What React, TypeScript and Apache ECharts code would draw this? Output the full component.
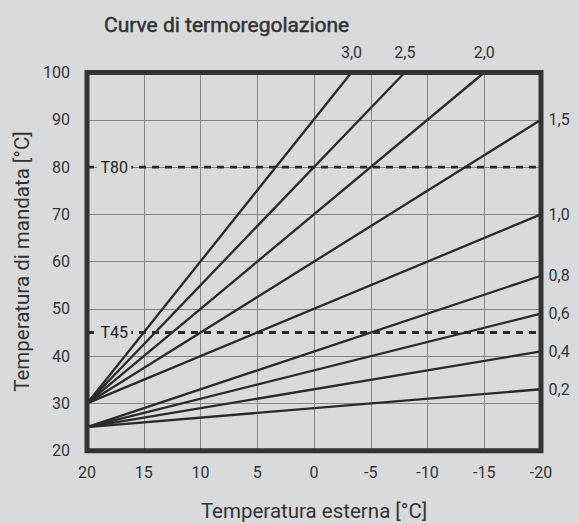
import React, { useEffect, useRef } from "react";
import * as echarts from "echarts";

// Curve labels (heating curve slopes)
const curveNames = ["3,0", "2,5", "2,0", "1,5", "1,0", "0,8", "0,6", "0,4", "0,2"];
// Start point of each curve (outdoor temp, flow temp)
const startOutdoor = [20, 20, 20, 20, 20, 20, 20, 20, 20];
const startFlow = [30, 30, 30, 30, 30, 25, 25, 25, 25];
// End point of each curve
const endOutdoor = [-3.3, -8, -15, -20, -20, -20, -20, -20, -20];
const endFlow = [100, 100, 100, 90, 70, 57, 49, 41, 33];

// Reference temperatures
const refNames = ["T80", "T45"];
const refFlow = [80, 45];
const refLabelOutdoor = [17.6, 17.6];

const xTicks = { min: -20, max: 20, interval: 5 };
const yTicks = { min: 20, max: 100, interval: 10 };

const FONT = "Roboto, 'Liberation Sans', sans-serif";
const TEXT = "#333333";
const BG = "#d9dadc";
const INK = "#2a2a2a";

const GRID = { left: 87, right: 38, top: 72.5, bottom: 73.3 };

export default function App() {
  const ref = useRef<HTMLDivElement>(null);
  useEffect(() => {
    const chart = echarts.init(ref.current!, undefined, { renderer: "svg" });
    const curveSeries = curveNames.map((name, i) => ({
      type: "line",
      name,
      symbol: "none",
      lineStyle: { color: INK, width: 2.3 },
      data: [
        [startOutdoor[i], startFlow[i]],
        [endOutdoor[i], endFlow[i]],
      ],
      z: 3,
    }));
    const refSeries = refNames.map((name, i) => ({
      type: "line",
      name,
      symbol: "none",
      lineStyle: { color: INK, width: 2.8, type: [7, 6] },
      data: [
        [xTicks.max, refFlow[i]],
        [xTicks.min, refFlow[i]],
      ],
      markPoint: {
        silent: true,
        symbol: "rect",
        symbolSize: [34, 16],
        itemStyle: { color: BG, borderWidth: 0 },
        label: {
          show: true,
          position: "inside",
          color: "#222222",
          fontSize: 16,
          fontFamily: FONT,
          textBorderWidth: 0,
        },
        data: [
          {
            name,
            coord: [refLabelOutdoor[i], refFlow[i]],
            value: name,
          },
        ],
      },
      z: 4,
    }));
    const endLabels = {
      type: "scatter",
      symbolSize: 1,
      itemStyle: { color: BG, opacity: 0 },
      silent: true,
      clip: false,
      data: curveNames.map((name, i) => {
        const atTop = endFlow[i] >= yTicks.max;
        return {
          value: [endOutdoor[i], endFlow[i], name],
          label: {
            show: true,
            position: atTop ? "top" : "right",
            distance: atTop ? 12 : 7,
            formatter: name,
            color: TEXT,
            opacity: 1,
            fontSize: 16,
            fontFamily: FONT,
            textBorderWidth: 0,
          },
        };
      }),
      z: 6,
    };
    const W = 579;
    const H = 524;
    chart.setOption({
      animation: false,
      backgroundColor: BG,
      title: {
        text: "Curve di termoregolazione",
        left: 99,
        top: 9,
        textStyle: {
          color: TEXT,
          fontSize: 21,
          fontWeight: "normal",
          fontFamily: FONT,
          textBorderColor: TEXT,
          textBorderWidth: 0.5,
        },
      },
      grid: {
        ...GRID,
        show: false,
        containLabel: false,
        outerBoundsMode: "none",
      },
      graphic: [
        {
          type: "rect",
          z: 100,
          silent: true,
          shape: {
            x: GRID.left,
            y: GRID.top,
            width: W - GRID.left - GRID.right,
            height: H - GRID.top - GRID.bottom,
          },
          style: { fill: "none", stroke: "#333333", lineWidth: 5 },
        },
      ],
      xAxis: {
        type: "value",
        inverse: true,
        min: xTicks.min,
        max: xTicks.max,
        interval: xTicks.interval,
        name: "Temperatura esterna [°C]",
        nameLocation: "middle",
        nameGap: 50,
        nameTextStyle: { color: TEXT, fontSize: 20.5, fontFamily: FONT },
        axisLine: { show: false },
        axisTick: { show: false },
        axisLabel: { color: TEXT, fontSize: 16, margin: 14, fontFamily: FONT },
        splitLine: { show: true, lineStyle: { color: "#858585", width: 1 } },
      },
      yAxis: {
        type: "value",
        min: yTicks.min,
        max: yTicks.max,
        interval: yTicks.interval,
        name: "Temperatura di mandata [°C]",
        nameLocation: "middle",
        nameGap: 55,
        nameTextStyle: { color: TEXT, fontSize: 20.5, fontFamily: FONT },
        axisLine: { show: false },
        axisTick: { show: false },
        axisLabel: { color: TEXT, fontSize: 16, margin: 17, fontFamily: FONT },
        splitLine: { show: true, lineStyle: { color: "#858585", width: 1 } },
      },
      series: [...curveSeries, ...refSeries, endLabels],
    });
    return () => chart.dispose();
  }, []);
  return (
    <div
      ref={ref}
      style={{ position: "fixed", left: 0, top: 0, width: 579, height: 524 }}
    />
  );
}
